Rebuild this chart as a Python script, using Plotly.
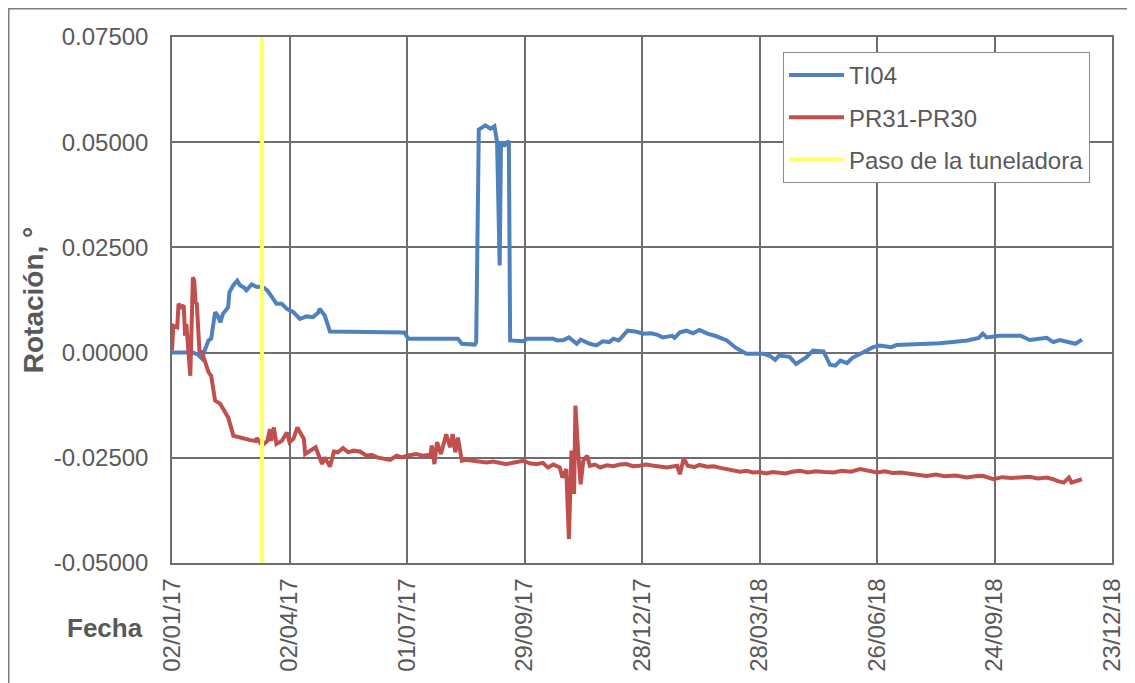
import pandas as pd
import plotly.graph_objects as go

START = "2017-01-02"
TBM_DATE = "2017-03-12"

# TI04 (days since START, rotation in degrees)
ti04_days = [0, 16, 20, 23, 25, 28, 30, 32, 33, 35, 37, 39, 43, 44, 47, 50, 52, 55, 57, 61,
             65, 69, 73, 77, 80, 84, 88, 93, 98, 103, 108, 112, 113, 117, 121, 178, 181, 219, 222, 232,
             233, 235, 240, 244, 247, 249, 251, 252, 255, 258, 259, 269, 272, 292, 295, 300, 304, 310, 313, 320,
             325, 330, 335, 338, 342, 344, 349, 355, 361, 367, 372, 376, 383, 385, 389, 394, 399, 404, 410, 416,
             420, 425, 432, 440, 453, 458, 462, 465, 470, 473, 478, 486, 491, 499, 504, 508, 512, 517, 521, 529,
             537, 542, 551, 555, 568, 578, 588, 598, 609, 618, 621, 624, 634, 650, 657, 670, 675, 680, 692, 697]
ti04_vals = [0.0, 0.0, -0.0005, -0.0014, 0.0005, 0.0029, 0.0033, 0.0080, 0.0096, 0.0088,
             0.0072, 0.0092, 0.0108, 0.0144, 0.0160, 0.0171, 0.0160, 0.0155, 0.0148, 0.0162,
             0.0156, 0.0157, 0.0148, 0.0130, 0.0116, 0.0116, 0.0104, 0.0096, 0.0080, 0.0086,
             0.0084, 0.0095, 0.0104, 0.0088, 0.0050, 0.0048, 0.0033, 0.0033, 0.0021, 0.0019,
             0.0025, 0.0530, 0.0540, 0.0532, 0.0538, 0.0500, 0.0207, 0.0500, 0.0493, 0.0503,
             0.0029, 0.0027, 0.0033, 0.0033, 0.0029, 0.0030, 0.0036, 0.0021, 0.0031, 0.0021,
             0.0017, 0.0027, 0.0025, 0.0033, 0.0029, 0.0035, 0.0052, 0.0050, 0.0045, 0.0046,
             0.0042, 0.0036, 0.0040, 0.0035, 0.0048, 0.0052, 0.0046, 0.0054, 0.0045, 0.0040,
             0.0035, 0.0029, 0.0011, -0.0003, -0.0003, -0.0008, -0.0017, -0.0007, -0.0009, -0.0010,
             -0.0027, -0.0011, 0.0005, 0.0003, -0.0029, -0.0031, -0.0019, -0.0025, -0.0013, 0.0001,
             0.0013, 0.0017, 0.0013, 0.0018, 0.0019, 0.0021, 0.0022, 0.0025, 0.0029, 0.0035,
             0.0045, 0.0036, 0.0040, 0.0040, 0.0030, 0.0035, 0.0025, 0.0030, 0.0021, 0.0031]

# PR31-PR30 (days since START, rotation in degrees)
pr_days = [0, 1, 4, 5, 7, 9, 10, 11, 14, 16,
           17, 18, 19, 21, 23, 25, 28, 30, 33, 37,
           41, 43, 46, 47, 50, 55, 60, 64, 65, 69,
           73, 75, 76, 78, 80, 84, 88, 90, 93, 96,
           98, 101, 102, 106, 110, 112, 115, 117, 121, 124,
           127, 131, 135, 139, 144, 149, 153, 157, 162, 167,
           172, 176, 180, 184, 187, 192, 198, 199, 201, 203,
           206, 210, 213, 215, 217, 219, 222, 226, 231, 236,
           241, 246, 251, 256, 262, 269, 274, 279, 284, 288,
           292, 295, 297, 299, 302, 304, 306, 308, 309, 311,
           313, 315, 318, 320,
           324, 328, 333, 338, 343, 348, 353, 358, 363, 369,
           374, 379, 387, 389, 392, 395, 400, 404, 410, 415,
           420, 425, 430, 435, 440, 445, 450, 455, 460, 464,
           470, 475, 481, 487, 493, 500, 507, 513, 520, 527,
           533, 540, 546, 552, 558, 564, 571, 578, 585, 592,
           600, 609, 615, 621, 629, 636, 643, 650, 657, 663,
           670, 675, 678, 683, 687, 689, 697]
pr_vals = [0.0005, 0.0064, 0.0060, 0.0116, 0.0108, 0.0112, 0.0040, 0.0068, -0.0055, 0.0179,
           0.0171, 0.0120, 0.0116, 0.0005, 0.0001, -0.0019, -0.0047, -0.0055, -0.0114, -0.0122,
           -0.0146, -0.0154, -0.0186, -0.0198, -0.0200, -0.0205, -0.0208, -0.0210, -0.0203, -0.0221,
           -0.0210, -0.0182, -0.0210, -0.0178, -0.0217, -0.0210, -0.0190, -0.0213, -0.0205, -0.0178,
           -0.0190, -0.0205, -0.0241, -0.0233, -0.0225, -0.0241, -0.0265, -0.0249, -0.0271, -0.0235,
           -0.0237, -0.0227, -0.0237, -0.0233, -0.0235, -0.0245, -0.0243, -0.0249, -0.0251, -0.0255,
           -0.0245, -0.0249, -0.0245, -0.0243, -0.0241, -0.0245, -0.0243, -0.0221, -0.0265, -0.0213,
           -0.0241, -0.0194, -0.0225, -0.0194, -0.0237, -0.0202, -0.0257, -0.0255, -0.0257, -0.0259,
           -0.0261, -0.0259, -0.0263, -0.0265, -0.0261, -0.0257, -0.0263, -0.0265, -0.0262, -0.0273,
           -0.0266, -0.0269, -0.0273, -0.0297, -0.0277, -0.0443, -0.0233, -0.0336, -0.0126, -0.0233,
           -0.0313, -0.0257, -0.0245, -0.0269,
           -0.0266, -0.0273, -0.0268, -0.0270, -0.0266, -0.0265, -0.0270, -0.0269, -0.0266, -0.0269,
           -0.0271, -0.0273, -0.0269, -0.0289, -0.0251, -0.0269, -0.0272, -0.0267, -0.0271, -0.0270,
           -0.0274, -0.0277, -0.0280, -0.0283, -0.0281, -0.0285, -0.0284, -0.0287, -0.0284, -0.0285,
           -0.0287, -0.0283, -0.0281, -0.0285, -0.0282, -0.0284, -0.0285, -0.0281, -0.0283, -0.0277,
           -0.0281, -0.0285, -0.0282, -0.0286, -0.0285, -0.0287, -0.0290, -0.0293, -0.0290, -0.0294,
           -0.0292, -0.0297, -0.0294, -0.0293, -0.0301, -0.0296, -0.0298, -0.0297, -0.0295, -0.0299,
           -0.0297, -0.0301, -0.0305, -0.0309, -0.0297, -0.0309, -0.0301]

Y_TICKS = [-0.05, -0.025, 0.0, 0.025, 0.05, 0.075]
Y_LABELS = ["-0.05000", "-0.02500", "0.00000", "0.02500", "0.05000", "0.07500"]
X_RANGE = ["2017-01-02", "2018-12-23"]

start = pd.Timestamp(START)
ti04_x = start + pd.to_timedelta(ti04_days, unit="D")
pr_x = start + pd.to_timedelta(pr_days, unit="D")

FONT = "Liberation Sans, Arial, sans-serif"
GREY = "#595959"
GRID = "#6e6e6e"

fig = go.Figure()
fig.add_trace(go.Scatter(x=ti04_x, y=ti04_vals, mode="lines", name="TI04",
                         legendgroup="a", line=dict(color="#4F81BD", width=4)))
fig.add_trace(go.Scatter(x=pr_x, y=pr_vals, mode="lines", name="PR31-PR30",
                         legendgroup="b", line=dict(color="#C0504D", width=4)))
fig.add_trace(go.Scatter(x=[TBM_DATE, TBM_DATE], y=[Y_TICKS[0], Y_TICKS[-1]], mode="lines",
                         name="Paso de la tuneladora", legendgroup="c",
                         line=dict(color="#FFFF66", width=4)))

fig.update_layout(
    width=1135, height=683,
    margin=dict(l=164, r=31, t=29, b=128),
    paper_bgcolor="white", plot_bgcolor="white",
    font=dict(family=FONT, color=GREY, size=24),
    legend=dict(x=0.65, y=0.9715, xanchor="left", yanchor="top",
                bgcolor="white", bordercolor="#8c8c8c", borderwidth=1,
                font=dict(size=24, color=GREY), traceorder="grouped",
                tracegroupgap=8, itemwidth=55),
    xaxis=dict(type="date", range=X_RANGE, tick0=START, dtick=90 * 86400000,
               tickformat="%d/%m/%y", tickangle=-90, showgrid=True,
               gridcolor=GRID, gridwidth=1.5, showline=True, linecolor=GRID,
               linewidth=1.5, mirror=True, ticks="", zeroline=False,
               tickfont=dict(size=24, color=GREY), ticklabelstandoff=4),
    yaxis=dict(range=[Y_TICKS[0], Y_TICKS[-1]], tickvals=Y_TICKS, ticktext=Y_LABELS,
               showgrid=True, gridcolor=GRID, gridwidth=1.5, showline=True,
               linecolor=GRID, linewidth=1.5, mirror=True, ticks="", zeroline=False,
               tickfont=dict(size=24, color=GREY), ticklabelstandoff=17,
               title=dict(text="<b>Rotación, °</b>", font=dict(size=28, color=GREY),
                          standoff=2)),
    annotations=[dict(text="<b>Fecha</b>", xref="paper", yref="paper",
                      x=-0.0713, y=-0.1236, xanchor="center", yanchor="middle",
                      showarrow=False, font=dict(size=26, color=GREY))],
    shapes=[dict(type="rect", xref="paper", yref="paper",
                 x0=-0.1739, x1=1.2, y0=-0.4, y1=1.0542,
                 line=dict(color="#7f7f7f", width=2), layer="below")],
    showlegend=True,
)

fig.write_html("out.html")
